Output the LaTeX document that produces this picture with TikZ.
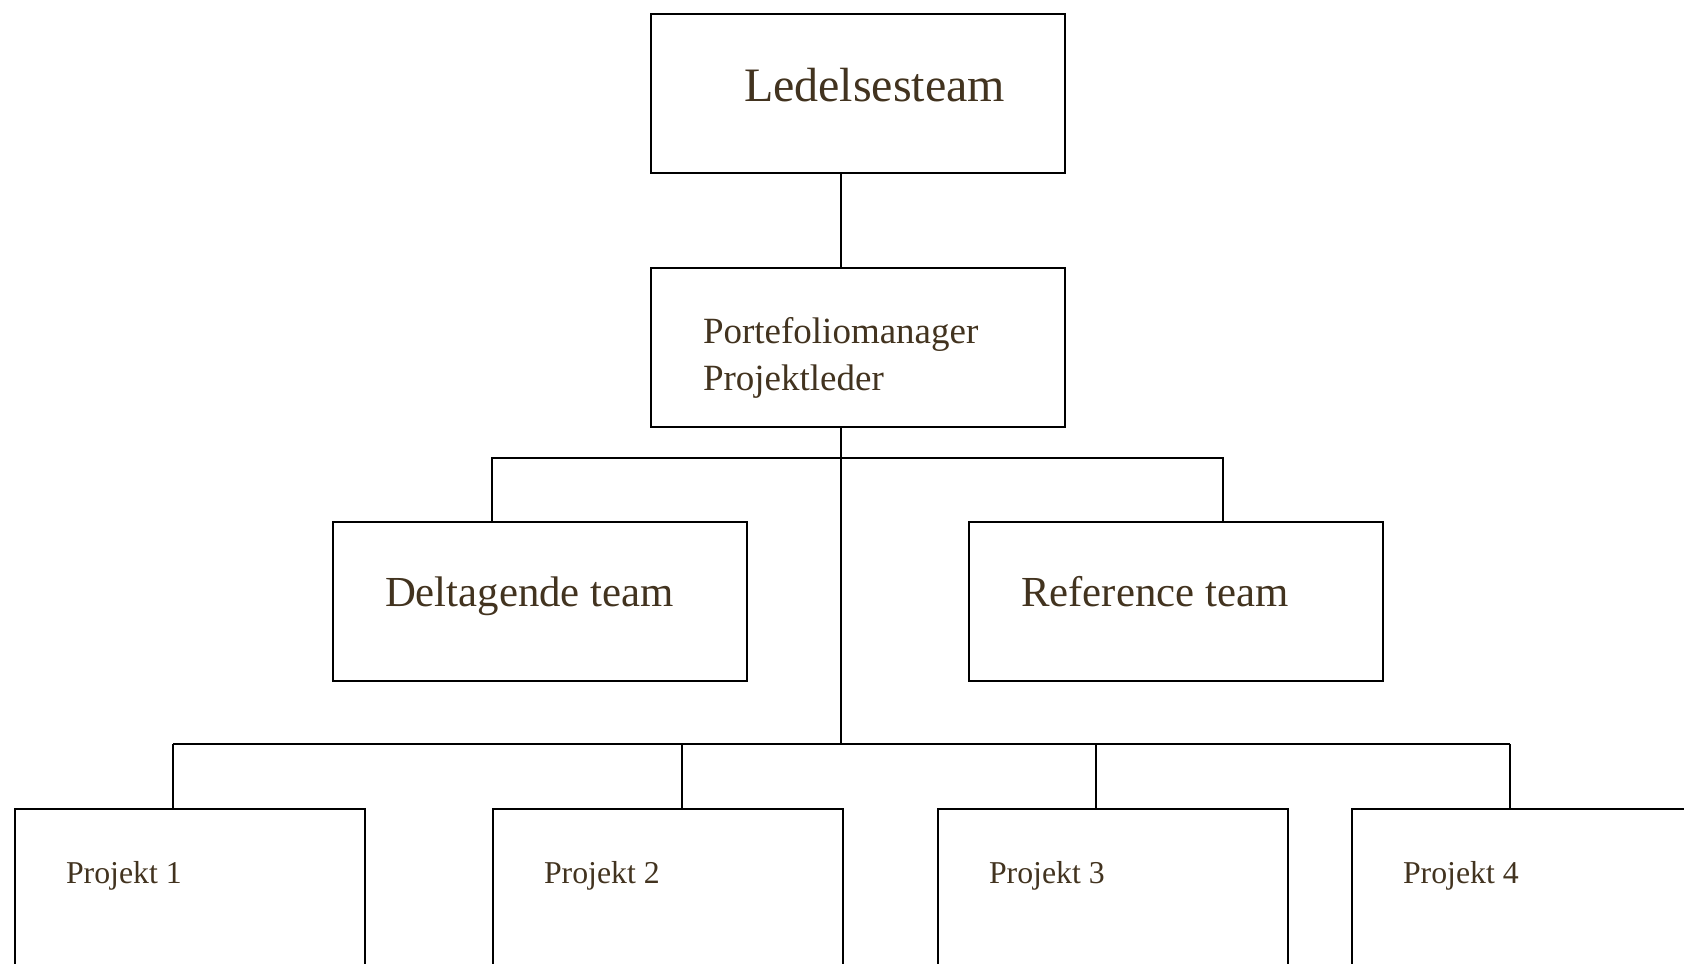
\documentclass[tikz,border=0pt]{standalone}
\usepackage{fontspec}
\setmainfont{Liberation Serif}
\usetikzlibrary{positioning}
\definecolor{inkbrown}{RGB}{66,51,31}

\begin{document}
\begin{tikzpicture}[x=0.5pt, y=-0.5pt, line width=1pt,
    teambox/.style={draw, rectangle, inner sep=0pt, anchor=north west, minimum width=207pt, minimum height=79.5pt},
    projbox/.style={draw, rectangle, inner sep=0pt, anchor=north west, minimum width=175pt, minimum height=100pt},
    lbl/.style={text=inkbrown, inner sep=0pt, anchor=base west}]
    \useasboundingbox (0,0) rectangle (1684,963);
    \clip (0,0) rectangle (1684,963);

    % boxes
    \node[teambox] (led) at (650,13) {};
    \node[teambox] (pm) at (650,267) {};
    \node[teambox] (dt) at (332,521) {};
    \node[teambox] (rt) at (968,521) {};
    \node[projbox] (p1) at (14,808) {};
    \node[projbox] (p2) at (492,808) {};
    \node[projbox] (p3) at (937,808) {};
    \node[projbox] (p4) at (1351,808) {};

    % texts
    \node[lbl, font=\fontsize{24}{28}\selectfont] (ledtxt) at (743,102) {Ledelsesteam};
    \node[lbl, font=\fontsize{18.5}{22}\selectfont] (pmtxt) at (702,343) {Portefoliomanager};
    \node[lbl, font=\fontsize{18.5}{22}\selectfont] (pltxt) at (702,390) {Projektleder};
    \node[lbl, font=\fontsize{21.4}{25}\selectfont] (dttxt) at (384,606) {Deltagende team};
    \node[lbl, font=\fontsize{21.4}{25}\selectfont] (rttxt) at (1020,606) {Reference team};
    \foreach \i/\x in {1/65, 2/543, 3/988, 4/1402}
        \node[lbl, font=\fontsize{15.9}{19}\selectfont] (p\i txt) at (\x,883) {Projekt \i};

    % connectors
    \coordinate (j1) at (841,458);
    \coordinate (j2) at (841,744);
    \coordinate (jd) at (492,458);
    \coordinate (jr) at (1223,458);
    \draw (led.south -| j1) -- (pm.north -| j1);
    \draw (pm.south -| j1) -- (j2);
    \draw (dt.north -| jd) -- (jd) -- (jr) -- (rt.north -| jr);
    \foreach \i/\x in {1/173, 2/682, 3/1096, 4/1510} {
        \coordinate (b\i) at (\x,744);
        \draw (b\i) -- (b\i |- p\i.north);
    }
    \draw (b1) -- (b4);
\end{tikzpicture}
\end{document}
